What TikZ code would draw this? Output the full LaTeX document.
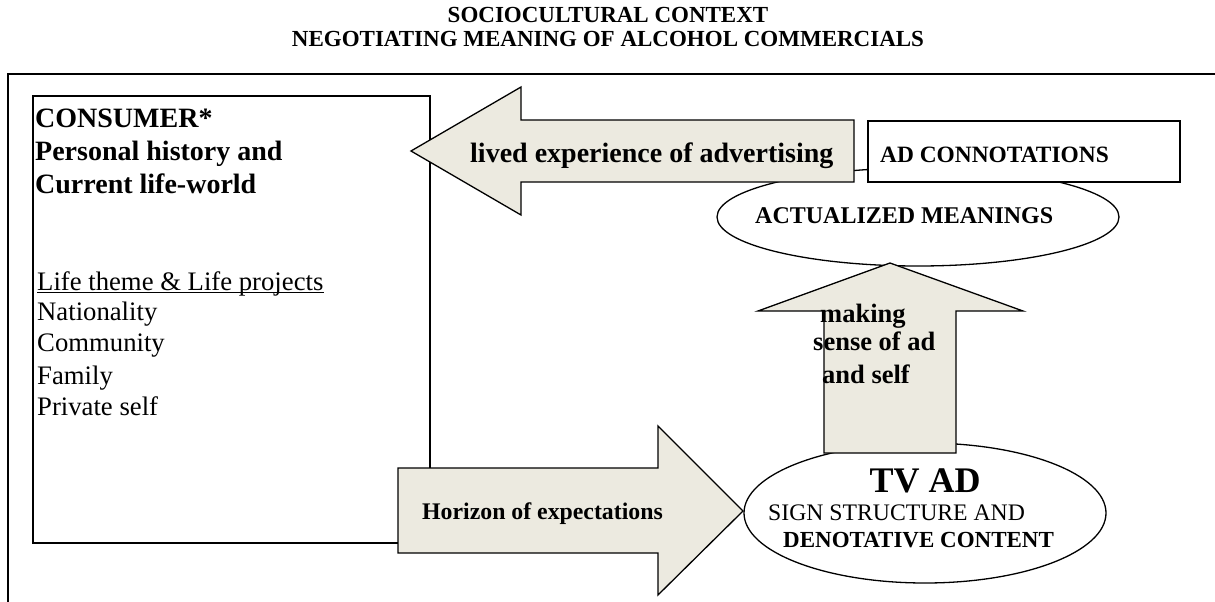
\documentclass[tikz,border=0pt]{standalone}
\usepackage{fontspec}
\setmainfont{Liberation Serif}
\definecolor{arrowfill}{RGB}{236,234,224}
\tikzset{
  shapeline/.style={draw=black, line width=1.3pt, line join=miter},
  bigarrow/.style={shapeline, fill=arrowfill},
  whitebox/.style={shapeline, fill=white},
  txt/.style={inner sep=0pt, anchor=base west},
  txtc/.style={inner sep=0pt, anchor=base},
}
\newcommand{\fs}[1]{\fontsize{#1}{#1}\selectfont}
\begin{document}
\begin{tikzpicture}[x=1pt,y=-1pt]
\useasboundingbox (0,0) rectangle (1215,602);
% outer frame (cropped)
\draw[line width=1.3pt] (8,602) -- (8,74) -- (1215,74);
% title
\node[txtc] (title1) at (608,23) {\fs{23}\bfseries SOCIOCULTURAL CONTEXT};
\node[txtc] (title2) at (608,47) {\fs{23}\bfseries NEGOTIATING MEANING OF ALCOHOL COMMERCIALS};
% consumer box
\draw[shapeline] (33,96) rectangle (430,543);
\node[txt] (c1) at (35,127) {\fs{28}\bfseries CONSUMER*};
\node[txt] (c2) at (35,160) {\fs{28}\bfseries Personal history and};
\node[txt] (c3) at (35,193) {\fs{28}\bfseries Current life-world};
\node[txt] (l1) at (37,290) {\fs{26.7}Life theme \& Life projects};
\draw[line width=1.1pt] ([yshift=-2.5pt]l1.base west) -- ([yshift=-2.5pt]l1.base east);
\node[txt] (l2) at (37,320) {\fs{26.7}Nationality};
\node[txt] (l3) at (37,351) {\fs{26.7}Community};
\node[txt] (l4) at (37,384) {\fs{26.7}Family};
\node[txt] (l5) at (37,415) {\fs{26.7}Private self};
% actualized meanings ellipse
\draw[shapeline, fill=white] (918,217) ellipse [x radius=201, y radius=49];
\node[txt] (act) at (755,223) {\fs{24}\bfseries ACTUALIZED MEANINGS};
% lived experience arrow
\draw[bigarrow] (411,151) -- (521,87) -- (521,120) -- (854,120) -- (854,182) -- (521,182) -- (521,215) -- cycle;
\node[txt] (lived) at (470,162) {\fs{28}\bfseries lived experience of advertising};
% AD connotations box
\draw[whitebox] (868,121) rectangle (1180,182);
\node[txt] (conn) at (880,162) {\fs{23.4}\bfseries AD CONNOTATIONS};
% TV AD ellipse
\draw[shapeline, fill=white] (925,513) ellipse [x radius=181, y radius=70];
\node[txtc] (tvad) at (925,492) {\fs{36}\bfseries TV AD};
\node[txt] (sign) at (768,520) {\fs{23.7}SIGN STRUCTURE AND};
\node[txt] (deno) at (783,547) {\fs{23}\bfseries DENOTATIVE CONTENT};
% making sense arrow (up)
\draw[bigarrow] (890,263) -- (1023,311) -- (956,311) -- (956,453) -- (824,453) -- (824,311) -- (758,311) -- cycle;
\node[txt] (mk1) at (820,322) {\fs{26.5}\bfseries making};
\node[txt] (mk2) at (813,350) {\fs{26.5}\bfseries sense of ad};
\node[txt] (mk3) at (822,383) {\fs{26.5}\bfseries and self};
% horizon arrow
\draw[bigarrow] (743,511) -- (658,595) -- (658,553) -- (398,553) -- (398,468) -- (658,468) -- (658,426) -- cycle;
\node[txt] (hor) at (422,519) {\fs{23.8}\bfseries Horizon of expectations};
\end{tikzpicture}
\end{document}
